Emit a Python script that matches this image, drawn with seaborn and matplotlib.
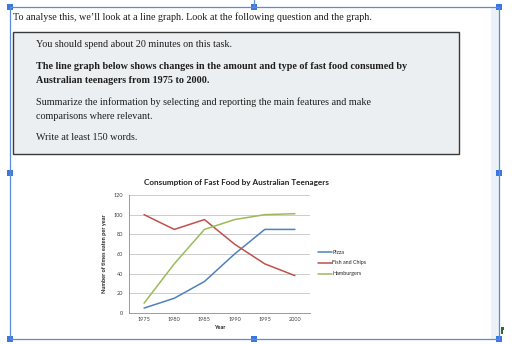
import matplotlib
matplotlib.use("Agg")
import matplotlib.pyplot as plt
from matplotlib.patches import Rectangle
from matplotlib.ticker import FixedLocator
import seaborn as sns
import pandas as pd

# chart data
years = ["1975", "1980", "1985", "1990", "1995", "2000"]
pizza = [5, 15, 32, 60, 85, 85]
fish_chips = [100, 85, 95, 70, 50, 38]
hamburgers = [10, 50, 85, 95, 100, 101]
foods = ["Pizza", "Fish and Chips", "Hamburgers"]
colors = ["#4F81BD", "#C0504D", "#9BBB59"]
y_ticks = [0, 20, 40, 60, 80, 100, 120]

# document text
intro = "To analyse this, we\u2019ll look at a line graph. Look at the following question and the graph."
task_lines = [
    ("You should spend about 20 minutes on this task.", "normal"),
    ("The line graph below shows changes in the amount and type of fast food consumed by", "bold"),
    ("Australian teenagers from 1975 to 2000.", "bold"),
    ("Summarize the information by selecting and reporting the main features and make", "normal"),
    ("comparisons where relevant.", "normal"),
    ("Write at least 150 words.", "normal"),
]
task_y = [44.3, 66.3, 80.3, 101.7, 116.3, 138]

sns.set_style("white")
plt.rcParams["font.family"] = ["Lato", "DejaVu Sans"]

W, H = 512, 344
fig = plt.figure(figsize=(W / 100, H / 100), dpi=100)

# background layer in pixel units
bg = fig.add_axes([0, 0, 1, 1])
bg.set_xlim(0, W)
bg.set_ylim(H, 0)
bg.axis("off")

serif = ["Liberation Serif", "DejaVu Serif"]
frame_c = "#5b8bd6"
handle_c = "#3a78e0"

# light strip on the right inside the frame
bg.add_patch(Rectangle((491, 8), 8, 331, facecolor="#edf2f8", edgecolor="none"))
# selection frame
bg.plot([10, 499, 499, 10, 10], [7, 7, 339, 339, 7], color=frame_c, lw=0.9)
bg.plot([254, 254], [0, 7], color=frame_c, lw=0.9)
for hx, hy in [(10, 7), (254, 7), (499, 7), (10, 173), (499, 173),
               (10, 339), (254, 339), (499, 339)]:
    bg.add_patch(Rectangle((hx - 3, hy - 3), 6, 6, facecolor=handle_c, edgecolor="none"))
bg.add_patch(Rectangle((501, 327), 1.5, 7, facecolor="#2e6b2e", edgecolor="none"))
bg.add_patch(Rectangle((501, 327), 3, 3, facecolor="#2e6b2e", edgecolor="none"))

# task box
bg.add_patch(Rectangle((13, 32), 446, 122, facecolor="#eceff1", edgecolor="#3a3a3a", lw=1.0))

bg.text(13, 16.7, intro, family=serif, fontsize=7.3, color="#1e1e1e", va="center", ha="left")
for (txt, wt), ty in zip(task_lines, task_y):
    bg.text(36.5, ty, txt, family=serif, fontsize=7.3, fontweight=wt,
            color="#1e1e1e", va="center", ha="left")

# chart
df = pd.DataFrame({
    "Year": years * 3,
    "Value": pizza + fish_chips + hamburgers,
    "Food": [foods[0]] * 6 + [foods[1]] * 6 + [foods[2]] * 6,
})

ax = fig.add_axes([129 / W, 1 - 313 / H, 181 / W, 118 / H])
sns.lineplot(data=df, x="Year", y="Value", hue="Food", palette=colors,
             hue_order=foods, lw=1.1, ax=ax, legend=True)
ax.set_xlim(-0.5, len(years) - 0.5)
ax.set_ylim(0, 120)
ax.set_yticks(y_ticks)
ax.yaxis.grid(True, color="#c4c4c4", lw=0.6)
ax.xaxis.grid(False)
ax.set_axisbelow(True)
for s in ["top", "right"]:
    ax.spines[s].set_visible(False)
for s in ["left", "bottom"]:
    ax.spines[s].set_color("#8c8c8c")
    ax.spines[s].set_linewidth(0.6)
ax.tick_params(axis="y", length=2, width=0.5, color="#8c8c8c", labelsize=4.0,
               labelcolor="#404040", pad=2)
ax.tick_params(axis="x", which="major", length=0, labelsize=4.0, labelcolor="#404040", pad=3)
ax.xaxis.set_minor_locator(FixedLocator([i - 0.5 for i in range(len(years) + 1)]))
ax.tick_params(axis="x", which="minor", length=2, width=0.5, color="#8c8c8c")
ax.set_xlabel("Year", fontsize=4.0, fontweight="bold", labelpad=2, color="#222222")
ax.set_ylabel("Number of times eaten per year", fontsize=4.0, fontweight="bold",
              labelpad=5, color="#222222")
ax.set_title("Consumption of Fast Food by Australian Teenagers", fontsize=5.9,
             fontweight="bold", pad=7, color="#222222", x=(236 - 129) / 181)

ax.legend(loc="upper left", bbox_to_anchor=(318, 249.5), bbox_transform=bg.transData,
          frameon=False, fontsize=3.9, handlelength=2.6, handletextpad=0.0,
          labelspacing=1.1, borderpad=0, borderaxespad=0)

fig.savefig("out.png", dpi=100)
